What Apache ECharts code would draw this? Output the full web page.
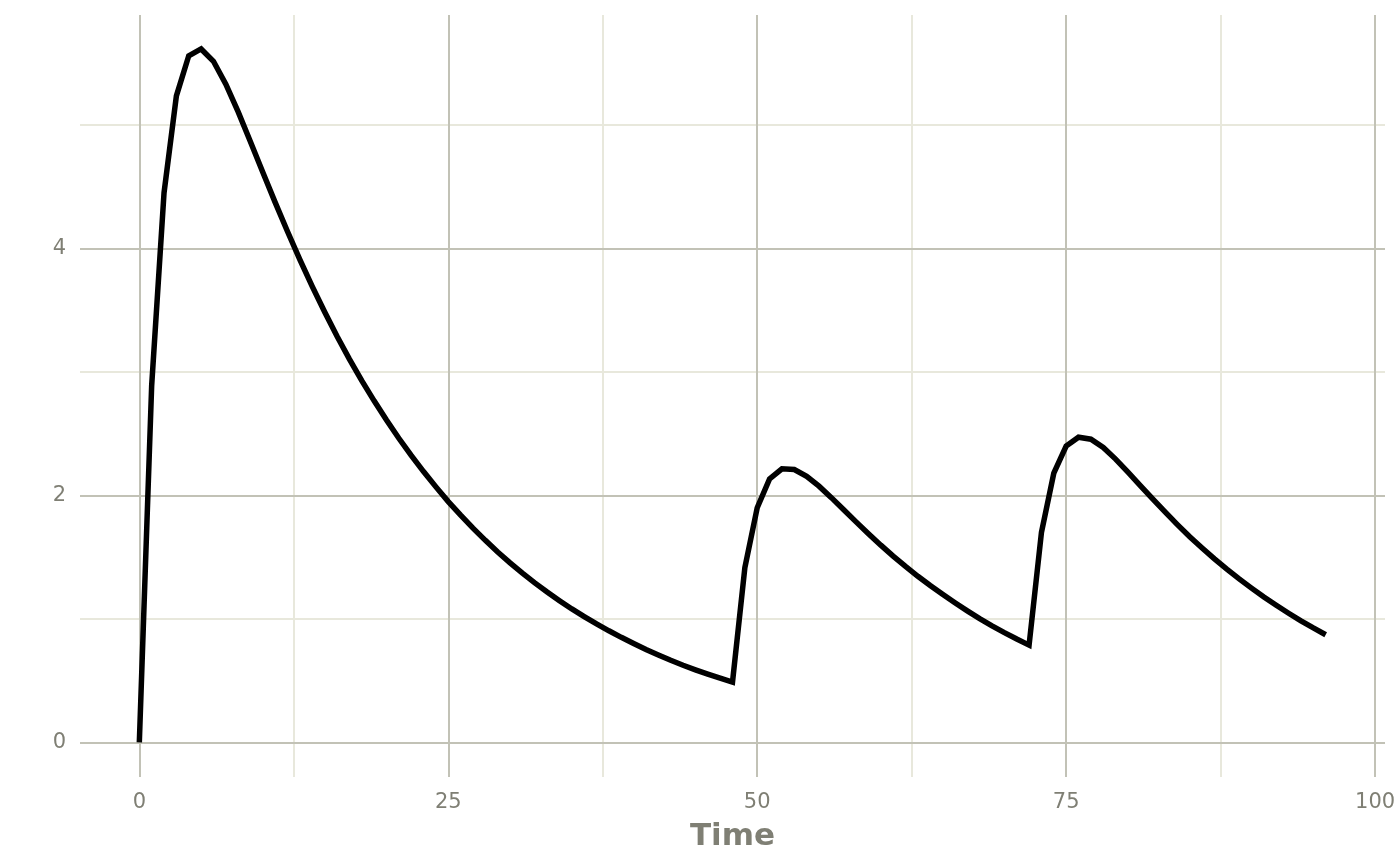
<!DOCTYPE html>
<html>
<head>
<meta charset="utf-8">
<script src="https://cdn.jsdelivr.net/npm/echarts@6/dist/echarts.min.js"></script>
<style>html,body{margin:0;padding:0;background:#fff}#c{width:1400px;height:865px}</style>
</head>
<body>
<div id="c"></div>
<script>
// Time (hours) and concentration
const time = [];
for (let t = 0; t <= 96; t++) time.push(t);
const conc = [
  0, 2.890, 4.450, 5.235, 5.560, 5.615, 5.515, 5.330, 5.105, 4.862,
  4.615, 4.371, 4.135, 3.907, 3.690, 3.485, 3.289, 3.104, 2.930, 2.766,
  2.610, 2.463, 2.324, 2.193, 2.069, 1.950, 1.840, 1.735, 1.636, 1.542,
  1.454, 1.371, 1.292, 1.218, 1.148, 1.081, 1.019, 0.960, 0.904, 0.851,
  0.801, 0.753, 0.708, 0.665, 0.625, 0.588, 0.553, 0.520, 0.489,
  1.415, 1.900, 2.133, 2.215, 2.210, 2.155, 2.075, 1.982, 1.884, 1.786,
  1.690, 1.597, 1.509, 1.425, 1.345, 1.270, 1.199, 1.131, 1.065, 1.002,
  0.944, 0.889, 0.837, 0.788,
  1.700, 2.180, 2.400, 2.471, 2.455, 2.388, 2.294, 2.189, 2.080, 1.972,
  1.866, 1.764, 1.666, 1.574, 1.486, 1.403, 1.324, 1.249, 1.177, 1.110,
  1.046, 0.985, 0.927, 0.872
];
const xTicks = [0, 25, 50, 75, 100];
const xMinor = [12.5, 37.5, 62.5, 87.5];
const yTicks = [0, 2, 4];
const yMinor = [1, 3, 5];
const xTitle = 'Time';

const majorCol = '#c2c2b6';
const minorCol = '#e8e8dc';
const textCol = '#7f7f74';

const gridLines = [];
xMinor.forEach(v => gridLines.push({xAxis: v, lineStyle: {color: minorCol, width: 2, type: 'solid'}}));
yMinor.forEach(v => gridLines.push({yAxis: v, lineStyle: {color: minorCol, width: 2, type: 'solid'}}));
xTicks.forEach(v => gridLines.push({xAxis: v, lineStyle: {color: majorCol, width: 2, type: 'solid'}}));
yTicks.forEach(v => gridLines.push({yAxis: v, lineStyle: {color: majorCol, width: 2, type: 'solid'}}));

const chart = echarts.init(document.getElementById('c'), null, {renderer: 'canvas'});
chart.setOption({
  animation: false,
  backgroundColor: '#ffffff',
  grid: {left: 80, right: 15, top: 15, bottom: 88, containLabel: false},
  xAxis: {
    type: 'value', min: -4.8, max: 100.8,
    name: xTitle, nameLocation: 'middle', nameGap: 44,
    nameTextStyle: {color: textCol, fontSize: 31, fontWeight: 'bold', fontFamily: 'DejaVu Sans'},
    axisLine: {show: false},
    axisTick: {show: true, length: 8, customValues: xTicks, lineStyle: {color: '#74746a', width: 2}},
    axisLabel: {show: true, customValues: xTicks, margin: 15, color: textCol, fontSize: 21, fontFamily: 'DejaVu Sans'},
    splitLine: {show: false}
  },
  yAxis: {
    type: 'value', min: -0.28, max: 5.89,
    axisLine: {show: false},
    axisTick: {show: true, length: 7, customValues: yTicks, lineStyle: {color: '#74746a', width: 2}},
    axisLabel: {show: true, customValues: yTicks, margin: 14, color: textCol, fontSize: 21, fontFamily: 'DejaVu Sans'},
    splitLine: {show: false}
  },
  series: [
    {
      type: 'line', data: [], z: 1, silent: true,
      markLine: {silent: true, symbol: 'none', label: {show: false}, animation: false, data: gridLines}
    },
    {
      type: 'line', z: 5, showSymbol: false, symbol: 'none', smooth: false,
      data: time.map((t, i) => [t, conc[i]]),
      lineStyle: {color: '#000000', width: 5.5, cap: 'butt', join: 'miter'}
    }
  ]
});
</script>
</body>
</html>
